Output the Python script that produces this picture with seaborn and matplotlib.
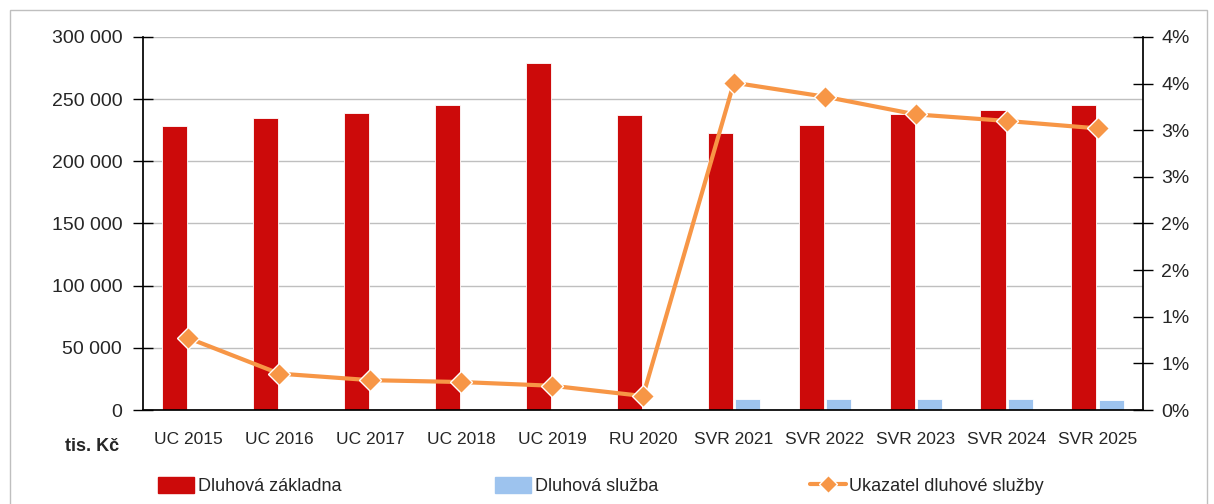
import math
import pandas as pd
import numpy as np
import matplotlib.pyplot as plt
import seaborn as sns
from matplotlib.ticker import FuncFormatter, MultipleLocator, FixedLocator
from matplotlib.lines import Line2D
from matplotlib.patches import Patch, Rectangle

# --- data ---
categories = ["UC 2015", "UC 2016", "UC 2017", "UC 2018", "UC 2019", "RU 2020",
              "SVR 2021", "SVR 2022", "SVR 2023", "SVR 2024", "SVR 2025"]
dluhova_zakladna = [228400, 234900, 238900, 245300, 279100, 237300,
                    222800, 229200, 238100, 241300, 245300]
dluhova_sluzba = [1200, 600, 500, 500, 400, 300,
                  8800, 9000, 8600, 8700, 8200]
ukazatel = [0.0077, 0.0039, 0.0032, 0.0030, 0.0026, 0.0015,
            0.0351, 0.0336, 0.0317, 0.0310, 0.0302]

series_names = ["Dluhová základna", "Dluhová služba"]
line_name = "Ukazatel dluhové služby"

RED = "#CC0A0A"
BLUE = "#9DC3EE"
ORANGE = "#F79646"

sns.set_theme(style="white")
plt.rcParams["font.family"] = ["Liberation Sans", "DejaVu Sans"]

df = pd.DataFrame({
    "kat": categories * 2,
    "serie": [series_names[0]] * len(categories) + [series_names[1]] * len(categories),
    "hodnota": dluhova_zakladna + dluhova_sluzba,
})

fig = plt.figure(figsize=(12.14, 5.04), dpi=100)
ax = fig.add_axes([0.1178, 0.1865, 0.8237, 0.7401])

sns.barplot(data=df, x="kat", y="hodnota", hue="serie", order=categories,
            hue_order=series_names, palette=[RED, BLUE], saturation=1,
            width=0.6, gap=0.08, edgecolor="white", linewidth=0.6,
            legend=False, ax=ax)

ax.set_ylim(0, 300000)
ax.set_xlim(-0.5, len(categories) - 0.5)
ax.yaxis.set_major_locator(MultipleLocator(50000))
ax.yaxis.set_major_formatter(FuncFormatter(lambda v, p: f"{int(v):,}".replace(",", " ")))
ax.grid(axis="y", color="#BFBFBF", linewidth=1)
ax.set_axisbelow(True)
ax.set_xlabel("")
ax.set_ylabel("")

ax.spines["top"].set_visible(False)
ax.spines["right"].set_visible(False)
ax.spines["left"].set_color("black")
ax.spines["bottom"].set_color("black")

ax.tick_params(axis="y", which="major", direction="inout", length=14, width=1,
               color="black", labelsize=14, pad=8)
ax.tick_params(axis="x", which="major", length=0, labelsize=12.5, pad=16)
ax.xaxis.set_minor_locator(FixedLocator(np.arange(-0.5, len(categories), 1.0)))
ax.tick_params(axis="x", which="minor", direction="inout", length=14, width=1, color="black")

# sekundarni osa - ukazatel
ax2 = ax.twinx()
sns.lineplot(x=np.arange(len(categories)), y=ukazatel, ax=ax2, color=ORANGE,
             linewidth=3, marker="D", markersize=11, markeredgecolor="white",
             markeredgewidth=1, legend=False)
ax2.set_ylim(0, 0.04)
ax2.yaxis.set_major_locator(MultipleLocator(0.005))
ax2.yaxis.set_major_formatter(FuncFormatter(lambda v, p: f"{int(math.floor(v * 100 + 0.5 + 1e-9))}%"))
ax2.tick_params(axis="y", which="major", direction="inout", length=14, width=1,
                color="black", labelsize=14, pad=6)
for s in ["top", "left", "bottom"]:
    ax2.spines[s].set_visible(False)
ax2.spines["right"].set_color("black")
ax2.set_ylabel("")
ax2.grid(False)

fig.text(0.076, 0.115, "tis. Kč", fontsize=13, fontweight="bold", ha="center", va="center")

handles = [Patch(facecolor=RED, edgecolor=RED),
           Patch(facecolor=BLUE, edgecolor=BLUE),
           Line2D([0], [0], color=ORANGE, linewidth=3, marker="D", markersize=9,
                  markeredgecolor="white")]
labels = series_names + [line_name]
xs = [0.130, 0.408, 0.667]
for h, l, x in zip(handles, labels, xs):
    fig.legend([h], [l], loc="center left", bbox_to_anchor=(x, 0.035), frameon=False,
               fontsize=13, handlelength=2.0, handleheight=1.0, handletextpad=0.2,
               borderpad=0, borderaxespad=0)

fig.patches.append(Rectangle((0.008, -0.02), 0.986, 1.0, transform=fig.transFigure,
                             fill=False, edgecolor="#BFBFBF", linewidth=1))

fig.savefig("out.png", dpi=100)
